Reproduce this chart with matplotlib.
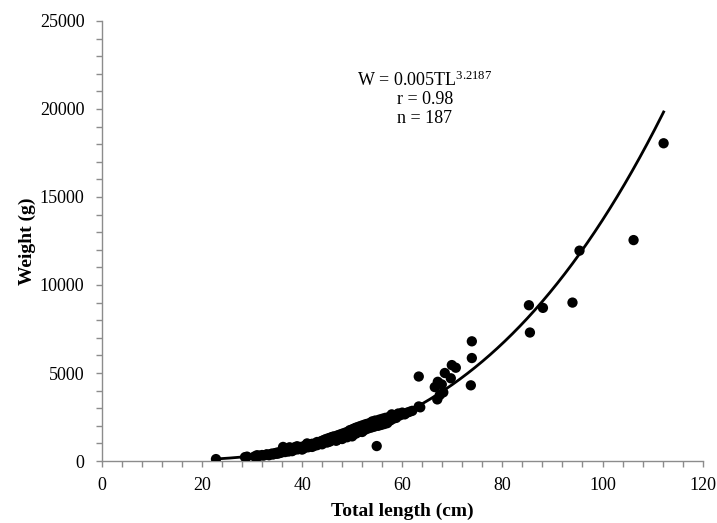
import matplotlib

matplotlib.use("Agg")
import matplotlib.pyplot as plt
import numpy as np
from matplotlib.ticker import MultipleLocator

# Total length (cm) and weight (g) of the 187 fish
length_cm = [
    22.8, 28.6, 29.0, 30.5, 31.0, 31.2, 31.5, 32.0, 32.3, 32.8, 33.0, 33.4, 33.8, 34.0, 34.2, 34.6, 34.9, 35.0,
    35.3, 35.5, 35.8, 36.0, 36.2, 36.4, 36.6, 36.9, 37.1, 37.3, 37.5, 37.7, 37.9, 38.1, 38.3, 38.5, 38.7, 38.9,
    39.1, 39.3, 39.5, 39.7, 39.9,
    40.1, 40.2, 40.4, 40.6, 40.8, 41.0, 41.2, 41.4, 41.6, 41.8, 42.0, 42.2, 42.4, 42.6, 42.8, 43.0, 43.2, 43.4,
    43.6, 43.8, 44.0, 44.2, 44.4, 44.6, 44.8,
    45.0, 45.1, 45.3, 45.5, 45.6, 45.8, 46.0, 46.1, 46.3, 46.5, 46.6, 46.8, 47.0, 47.1, 47.3, 47.5, 47.6, 47.8,
    48.0, 48.1, 48.3, 48.5, 48.6, 48.8, 49.0, 49.1, 49.3, 49.5, 49.6, 49.8, 50.0,
    50.1, 50.2, 50.4, 50.5, 50.7, 50.8, 51.0, 51.1, 51.3, 51.4, 51.6, 51.8, 51.9, 52.1, 52.3, 52.4, 52.6, 52.8,
    53.0, 53.2, 53.4, 53.6, 53.8, 54.0, 54.2, 54.4, 54.6, 54.9, 55.0,
    55.2, 55.4, 55.6, 55.8, 56.0, 56.2, 56.4, 56.6, 56.8, 57.0, 57.3, 57.6, 57.9, 58.2, 58.5, 58.8, 59.2, 59.6,
    60.0, 60.5, 61.0, 61.5, 62.0,
    63.3, 63.3, 63.6, 66.5, 67.1, 67.5, 67.9, 68.2, 68.5, 69.7, 69.9, 70.7, 73.7, 73.9, 73.9, 67.0,
    85.3, 85.5, 88.1, 94.0, 95.4, 106.2, 112.2,
    36.0, 37.0, 38.0, 39.0, 40.0, 41.0, 42.0, 43.0, 44.0, 46.0, 47.0, 48.0, 49.0, 50.0, 52.0,
]
weight_g = [
    110, 220, 250, 260, 330, 280, 300, 340, 310, 360, 380, 330, 400, 420, 370, 450, 410, 480,
    430, 500, 470, 520, 800, 560, 510, 580, 620, 540, 780, 600, 650, 700, 620, 780, 680, 730,
    660, 760, 700, 800, 740,
    780, 700, 850, 760, 900, 820, 780, 950, 880, 840, 980, 900, 860, 1000, 940, 1080, 960, 1020,
    1100, 990, 1150, 1060, 1200, 1080, 1250,
    1050, 1150, 1300, 1100, 1200, 1350, 1180, 1260, 1400, 1220, 1320, 1150, 1450, 1300, 1240, 1500, 1380, 1280,
    1550, 1420, 1330, 1600, 1480, 1380, 1650, 1520, 1420, 1750, 1560, 1460, 1800,
    1600, 1500, 1850, 1680, 1550, 1900, 1720, 1620, 1950, 1780, 1680, 2000, 1820, 1720, 2050, 1880, 1780, 2100,
    1950, 1850, 2150, 2000, 1900, 2250, 2050, 1950, 2300, 850, 2100,
    2000, 2350, 2150, 2050, 2400, 2200, 2100, 2450, 2250, 2150, 2500, 2300, 2650, 2400, 2550, 2450, 2700, 2600,
    2750, 2650, 2750, 2800, 2850,
    4800, 3100, 3050, 4200, 4500, 3750, 4350, 3900, 5000, 4700, 5450, 5300, 4300, 5850, 6800, 3500,
    8850, 7300, 8700, 9000, 11950, 12550, 18050,
    600, 700, 560, 840, 650, 1000, 800, 900, 950, 1350, 1200, 1250, 1350, 1400, 1650,
]

# fitted length-weight relationship W = a * TL^b
a_coef = 0.005
b_coef = 3.2187
fit_range = (22.8, 112.2)

plt.rcParams["font.family"] = ["Liberation Serif", "DejaVu Serif"]
plt.rcParams["mathtext.fontset"] = "custom"
plt.rcParams["mathtext.rm"] = "Liberation Serif"
plt.rcParams["mathtext.it"] = "Liberation Serif:italic"

fig = plt.figure(figsize=(7.17, 5.23), dpi=100)
ax = fig.add_axes([0.142, 0.1185, 0.838, 0.8415])

tl = np.linspace(fit_range[0], fit_range[1], 300)
ax.plot(tl, a_coef * tl ** b_coef, color="black", lw=2, zorder=2)
ax.scatter(length_cm, weight_g, s=55, color="black", edgecolors="none", zorder=3)

ax.set_xlim(0, 120)
ax.set_ylim(0, 25000)
ax.xaxis.set_major_locator(MultipleLocator(20))
ax.xaxis.set_minor_locator(MultipleLocator(4))
ax.yaxis.set_major_locator(MultipleLocator(5000))
ax.yaxis.set_minor_locator(MultipleLocator(1000))

for side in ("top", "right"):
    ax.spines[side].set_visible(False)
for side in ("left", "bottom"):
    ax.spines[side].set_color("#8c8c8c")
    ax.spines[side].set_linewidth(1)
ax.tick_params(which="both", color="#8c8c8c", length=4, width=1, labelsize=13)
ax.tick_params(axis="x", which="major", pad=7.5)
ax.tick_params(axis="y", which="major", pad=8.5)

ax.set_xlabel("Total length (cm)", fontsize=14, fontweight="bold", labelpad=6)
ax.set_ylabel("Weight (g)", fontsize=14, fontweight="bold", labelpad=3)

ax.text(64.5, 21650, r"W = 0.005TL$^{\mathrm{3.2187}}$", ha="center", va="center", fontsize=13)
ax.text(64.5, 20550, "r = 0.98", ha="center", va="center", fontsize=13)
ax.text(64.5, 19450, "n = 187", ha="center", va="center", fontsize=13)

fig.savefig("out.png", dpi=100)
